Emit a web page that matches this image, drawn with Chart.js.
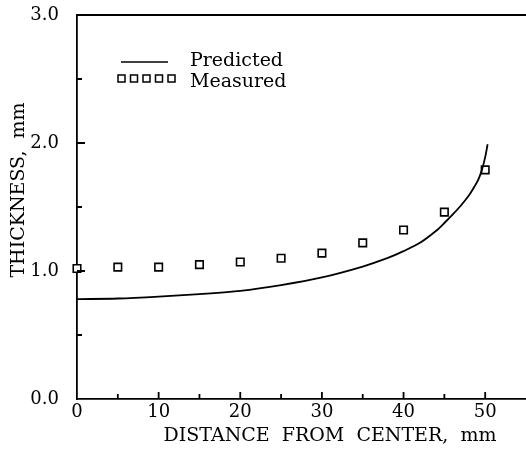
<!DOCTYPE html>
<html>
<head>
<meta charset="utf-8">
<script src="https://cdn.jsdelivr.net/npm/chart.js@4/dist/chart.umd.min.js"></script>
<style>
  html, body { margin: 0; padding: 0; background: #fff; overflow: hidden; }
  #wrap { width: 526px; height: 449px; }
  canvas { display: block; }
</style>
</head>
<body>
<div id="wrap"><canvas id="myChart" width="526" height="449"></canvas></div>
<script>
// measured points
const measuredX = [0, 5, 10, 15, 20, 25, 30, 35, 40, 45, 50];
const measuredY = [1.02, 1.03, 1.03, 1.05, 1.07, 1.10, 1.14, 1.22, 1.32, 1.46, 1.79];

// predicted curve
const predictedX = [0, 5, 10, 15, 20, 25, 30, 35, 38, 40, 42, 44, 45, 46, 47, 48, 48.6, 49.2, 49.6, 50, 50.3];
const predictedY = [0.78, 0.785, 0.80, 0.82, 0.845, 0.89, 0.95, 1.035, 1.10, 1.155, 1.22, 1.315, 1.375, 1.44, 1.51, 1.59, 1.65, 1.72, 1.79, 1.89, 1.99];

const xTicks = [0, 10, 20, 30, 40, 50];
const yTicks = [0, 1, 2, 3];

const FONT = '"DejaVu Serif", serif';

// inward ticks, top frame line, legend and axis titles
const extras = {
    id: 'extras',
    afterDraw(chart) {
        const c = chart.ctx;
        const xs = chart.scales.x, ys = chart.scales.y;
        const a = chart.chartArea;
        c.save();
        c.strokeStyle = '#000';
        c.lineWidth = 1.8;
        c.beginPath();
        c.moveTo(a.left, a.top);
        c.lineTo(a.right, a.top);
        for (let v = 5; v < 55; v += 5) {
            const px = xs.getPixelForValue(v);
            const len = v % 10 === 0 ? 7 : 5;
            c.moveTo(px, a.bottom);
            c.lineTo(px, a.bottom - len);
        }
        for (let v = 0.5; v < 3; v += 0.5) {
            const py = ys.getPixelForValue(v);
            const len = v % 1 === 0 ? 8 : 5;
            c.moveTo(a.left, py);
            c.lineTo(a.left + len, py);
        }
        c.stroke();

        // legend
        c.lineWidth = 1.6;
        c.beginPath();
        c.moveTo(121, 62);
        c.lineTo(168, 62);
        c.stroke();
        c.lineWidth = 1.5;
        for (let i = 0; i < 5; i++) {
            c.strokeRect(118 + i * 12.5, 75, 7, 7);
        }
        c.fillStyle = '#000';
        c.font = '19px ' + FONT;
        c.textAlign = 'left';
        c.textBaseline = 'alphabetic';
        c.fillText('Predicted', 190, 66);
        c.fillText('Measured', 190, 87);

        // x title
        c.textAlign = 'center';
        c.fillText('DISTANCE  FROM  CENTER,  mm', 330, 441);

        // y title
        c.translate(24, 190);
        c.rotate(-Math.PI / 2);
        c.fillText('THICKNESS,  mm', 0, 0);
        c.restore();
    }
};

const ctx = document.getElementById('myChart').getContext('2d');

const data = {
    datasets: [
        {
            label: 'Predicted',
            data: predictedX.map((x, i) => ({ x: x, y: predictedY[i] })),
            showLine: true,
            borderColor: '#000',
            borderWidth: 1.8,
            pointRadius: 0,
            tension: 0.3,
            fill: false
        },
        {
            label: 'Measured',
            data: measuredX.map((x, i) => ({ x: x, y: measuredY[i] })),
            showLine: false,
            pointStyle: 'rect',
            pointRadius: 5.3,
            pointBorderWidth: 1.6,
            pointBorderColor: '#000',
            pointBackgroundColor: '#fff',
            clip: false
        }
    ]
};

const config = {
    type: 'scatter',
    data: data,
    options: {
        responsive: false,
        animation: false,
        devicePixelRatio: 1,
        layout: { autoPadding: false, padding: { top: 15, right: 0, left: 0, bottom: 0 } },
        plugins: {
            legend: { display: false },
            tooltip: { enabled: false }
        },
        scales: {
            x: {
                type: 'linear',
                min: 0,
                max: 55,
                afterBuildTicks: s => { s.ticks = xTicks.map(v => ({ value: v })); },
                afterFit: s => { s.height = 50; s.paddingLeft = 0; s.paddingRight = 0; },
                grid: { display: false, drawTicks: false },
                border: { display: true, color: '#000', width: 1.8 },
                ticks: {
                    color: '#000',
                    padding: 3,
                    maxRotation: 0,
                    font: { family: FONT, size: 18 }
                }
            },
            y: {
                type: 'linear',
                min: 0,
                max: 3,
                afterBuildTicks: s => { s.ticks = yTicks.map(v => ({ value: v })); },
                afterFit: s => { s.width = 77; s.paddingTop = 0; s.paddingBottom = 0; },
                grid: { display: false, drawTicks: false },
                border: { display: true, color: '#000', width: 1.8 },
                ticks: {
                    color: '#000',
                    padding: 18,
                    font: { family: FONT, size: 18 },
                    callback: function (value) {
                        return value.toFixed(1);
                    }
                }
            }
        }
    },
    plugins: [extras]
};

const myChart = new Chart(ctx, config);
</script>
</body>
</html>
